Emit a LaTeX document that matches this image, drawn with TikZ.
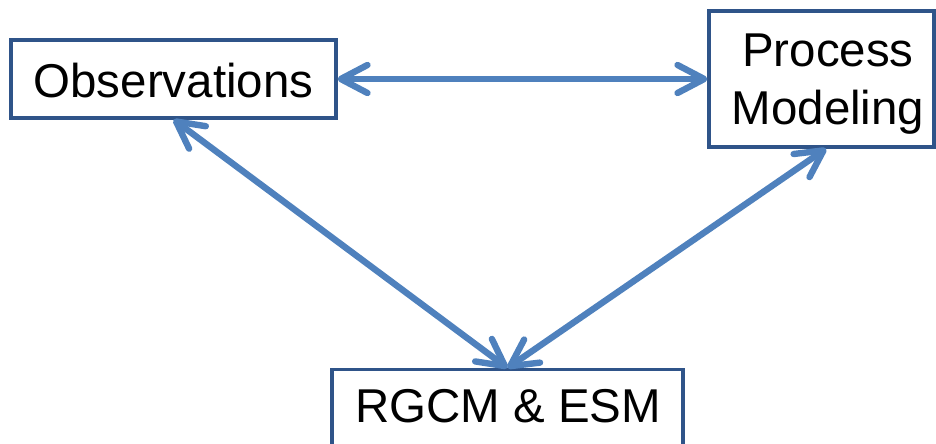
\documentclass[tikz,border=0pt]{standalone}
\usepackage{fontspec}
\setmainfont{Liberation Sans}
\usetikzlibrary{arrows.meta}
\definecolor{arrblue}{HTML}{4F81BD}
\definecolor{boxblue}{HTML}{2F5489}
\tikzset{
  box/.style={draw=boxblue, line width=2.4pt, fill=white, rectangle, inner sep=0pt},
  lbl/.style={font=\fontsize{35.6}{43.5}\selectfont, text=black, align=center, inner sep=0pt},
  barb/.tip={Straight Barb[length=20pt, width=21pt, line cap=round, line join=round]},
  link/.style={draw=arrblue, line width=4.8pt, line cap=round, {barb}-{barb}}
}
\begin{document}
\begin{tikzpicture}[x=0.75pt, y=-0.75pt]
  \useasboundingbox (0,0) rectangle (936,443);
  \node[box, minimum width=243.75pt, minimum height=58.5pt] (obs) at (173.5,79) {};
  \node[box, minimum width=168.75pt, minimum height=102pt] (proc) at (821.5,79) {};
  \node[box, minimum width=263.25pt, minimum height=67.5pt, anchor=north] (rgcm) at (507.5,368) {};
  \node[lbl, text height=25.5pt, text depth=0pt] (obst) at (173.5,80) {Observations};
  \node[lbl] (proct) at (828,84) {Process\\Modeling};
  \node[lbl, text height=25.5pt, text depth=0pt] (rgcmt) at (508,405.5) {RGCM \& ESM};
  \draw[link] (obs.east) -- (proc.west);
  \draw[link] (obs.south) -- (rgcm.north);
  \draw[link] ([xshift=3.5pt]proc.south) -- (rgcm.north);
\end{tikzpicture}
\end{document}
